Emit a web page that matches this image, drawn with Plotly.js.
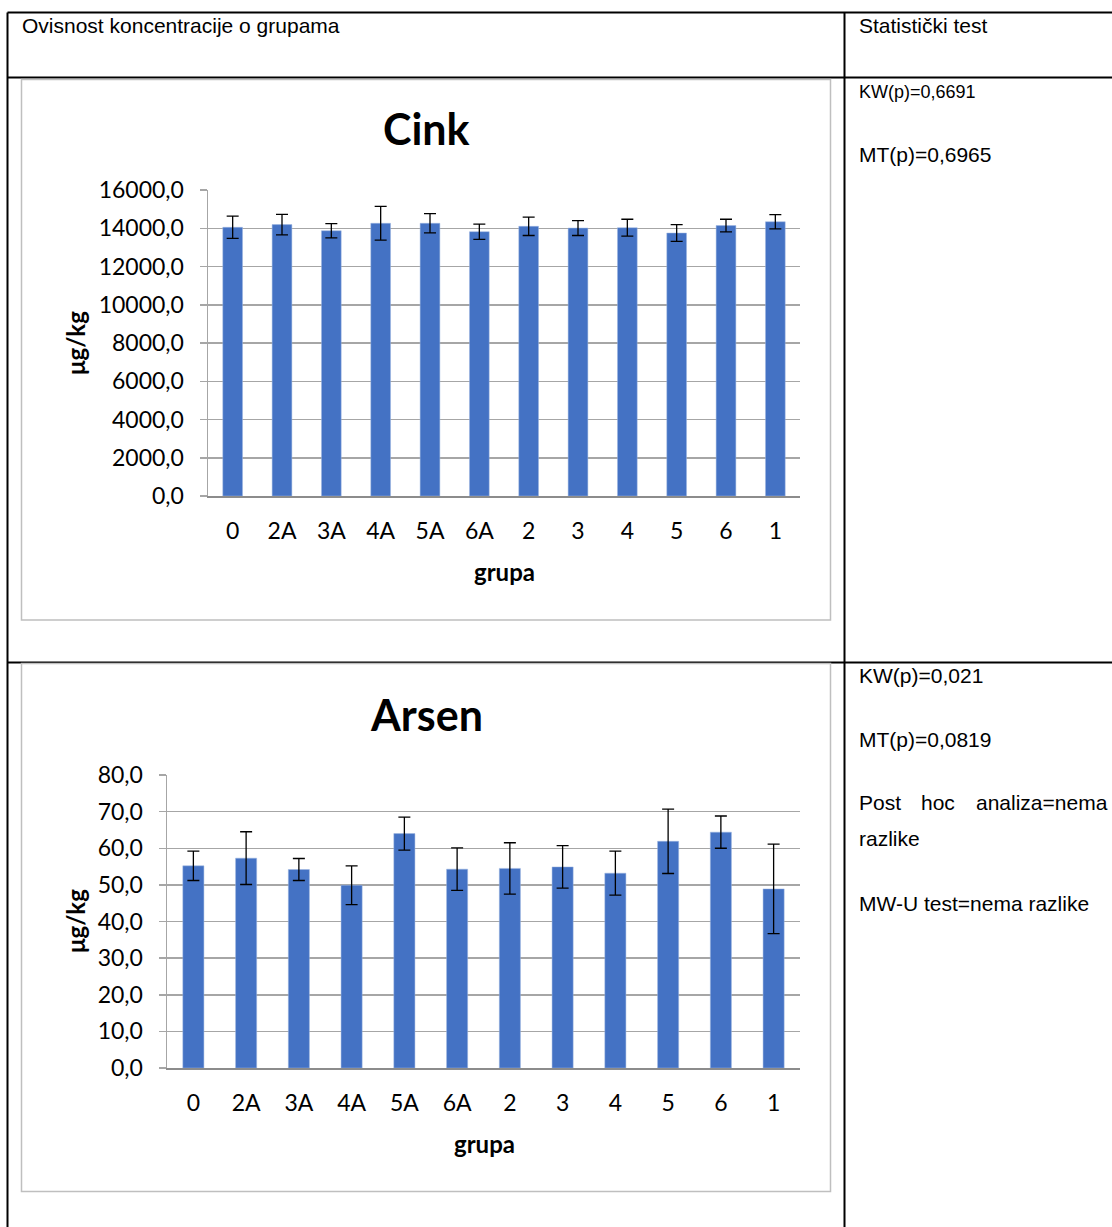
<!DOCTYPE html>
<html>
<head>
<meta charset="utf-8">
<script src="https://cdn.plot.ly/plotly-3.0.1.min.js"></script>
<style>
html,body{margin:0;padding:0;background:#fff;}
#chart{width:1112px;height:1227px;}
</style>
</head>
<body>
<div id="chart"></div>
<script>
const groups = ["0","2A","3A","4A","5A","6A","2","3","4","5","6","1"];
const cinkValues = [14050,14190,13870,14260,14260,13820,14100,14010,14030,13750,14140,14340];
const cinkErrors = [580,540,370,880,500,400,480,390,440,435,330,370];
const arsenValues = [55.2,57.3,54.2,49.9,64.0,54.3,54.5,54.9,53.2,61.9,64.4,48.9];
const arsenErrors = [4.0,7.2,3.0,5.3,4.5,5.8,7.0,5.8,6.0,8.8,4.4,12.2];
const cinkTicks = [0,2000,4000,6000,8000,10000,12000,14000,16000];
const arsenTicks = [0,10,20,30,40,50,60,70,80];
const headerLeft = "Ovisnost koncentracije o grupama";
const headerRight = "Statistički test";
const cinkStats = ["KW(p)=0,6691","MT(p)=0,6965"];
const arsenStats = ["KW(p)=0,021","MT(p)=0,0819"];

const W = 1112, H = 1227;
const px = x => x / W;
const py = y => 1 - y / H;

const barColor = "#4472c4";
const chartFont = "Lato, 'Open Sans', sans-serif";
const tableFont = "'Liberation Sans', Arial, sans-serif";

function barTrace(vals, errs, xa, ya){
  return {
    type:"bar", x:groups, y:vals, xaxis:xa, yaxis:ya,
    marker:{color:barColor, line:{color:"#9fb6e0", width:0.5}},
    width:0.4,
    error_y:{type:"data", array:errs, visible:true, color:"#000", thickness:1.3, width:6},
    hoverinfo:"skip", showlegend:false
  };
}

const data = [
  barTrace(cinkValues, cinkErrors, "x", "y"),
  barTrace(arsenValues, arsenErrors, "x2", "y2")
];

function xAxis(domain, anchor){
  return {
    domain:domain, anchor:anchor, type:"category",
    showline:true, linecolor:"#8c8c8c", linewidth:1.5,
    ticks:"", showgrid:false, zeroline:false,
    tickfont:{family:chartFont, size:23, color:"#000"},
    ticklabelstandoff:14, fixedrange:true
  };
}
function yAxis(domain, anchor, range, ticks, standoff){
  return {
    domain:domain, anchor:anchor, range:range,
    tickvals:ticks, tickformat:".1f",
    showline:true, linecolor:"#a6a6a6", linewidth:1.5,
    ticks:"outside", ticklen:7, tickcolor:"#a6a6a6", tickwidth:1.5,
    showgrid:true, gridcolor:"#a6a6a6", gridwidth:1.5,
    zeroline:false,
    tickfont:{family:chartFont, size:23, color:"#000"},
    ticklabelstandoff:standoff, fixedrange:true
  };
}

const shapes = [];
function line(x0,y0,x1,y1,color,w){
  shapes.push({type:"line", xref:"paper", yref:"paper",
    x0:px(x0), y0:py(y0), x1:px(x1), y1:py(y1),
    line:{color:color, width:w}});
}
function rect(x0,y0,x1,y1,color,w){
  shapes.push({type:"rect", xref:"paper", yref:"paper",
    x0:px(x0), y0:py(y0), x1:px(x1), y1:py(y1),
    line:{color:color, width:w}, fillcolor:"rgba(0,0,0,0)"});
}
// table lines
line(7.5, 12.5, 1112, 12.5, "#000", 2);
line(7.5, 12.5, 7.5, 1227, "#000", 2);
line(844.5, 12.5, 844.5, 1227, "#000", 2);
line(7.5, 77.5, 1112, 77.5, "#000", 2);
line(7.5, 662.5, 1112, 662.5, "#000", 2);
// chart boxes
rect(21.5, 79.5, 830.5, 620, "#bfbfbf", 1.5);
rect(21.5, 663.5, 830.5, 1191.5, "#bfbfbf", 1.5);

const annotations = [];
function txt(s, x, y, opts){
  annotations.push(Object.assign({
    text:s, xref:"paper", yref:"paper", x:px(x), y:py(y),
    xanchor:"left", yanchor:"middle", showarrow:false,
    font:{family:tableFont, size:21, color:"#000"}
  }, opts||{}));
}
txt(headerLeft, 20, 26);
txt(headerRight, 857, 26);
txt(cinkStats[0], 857, 92, {font:{family:tableFont, size:18, color:"#000"}});
txt(cinkStats[1], 857, 154);
txt(arsenStats[0], 857, 675);
txt(arsenStats[1], 857, 739);
txt("Post", 857, 802);
txt("hoc", 938, 802, {xanchor:"center"});
txt("analiza=nema", 1110, 802, {xanchor:"right"});
txt("razlike", 857, 838);
txt("MW-U test=nema razlike", 857, 903);

const titleFont = {family:chartFont, size:43, color:"#000", weight:"bold"};
const axFont = {family:chartFont, size:24, color:"#000", weight:"bold"};
// chart titles
txt("Cink", 426, 129, {xanchor:"center", font:titleFont});
txt("Arsen", 426, 714, {xanchor:"center", font:titleFont});
// axis titles
txt("μg/kg", 75, 343, {xanchor:"center", textangle:-90, font:axFont});
txt("μg/kg", 75, 921, {xanchor:"center", textangle:-90, font:axFont});
txt("grupa", 504, 572, {xanchor:"center", font:axFont});
txt("grupa", 484, 1143, {xanchor:"center", font:axFont});

const layout = {
  width:W, height:H,
  margin:{l:0, r:0, t:0, b:0},
  paper_bgcolor:"#fff", plot_bgcolor:"rgba(0,0,0,0)",
  separators:", ",
  showlegend:false,
  xaxis: xAxis([px(208), px(800)], "y"),
  yaxis: yAxis([py(496), py(190)], "x", [0,16000], cinkTicks, 11),
  xaxis2: xAxis([px(167), px(800)], "y2"),
  yaxis2: yAxis([py(1068), py(775)], "x2", [0,80], arsenTicks, 11),
  shapes:shapes,
  annotations:annotations
};

Plotly.newPlot("chart", data, layout, {staticPlot:true, displayModeBar:false});
</script>
</body>
</html>
